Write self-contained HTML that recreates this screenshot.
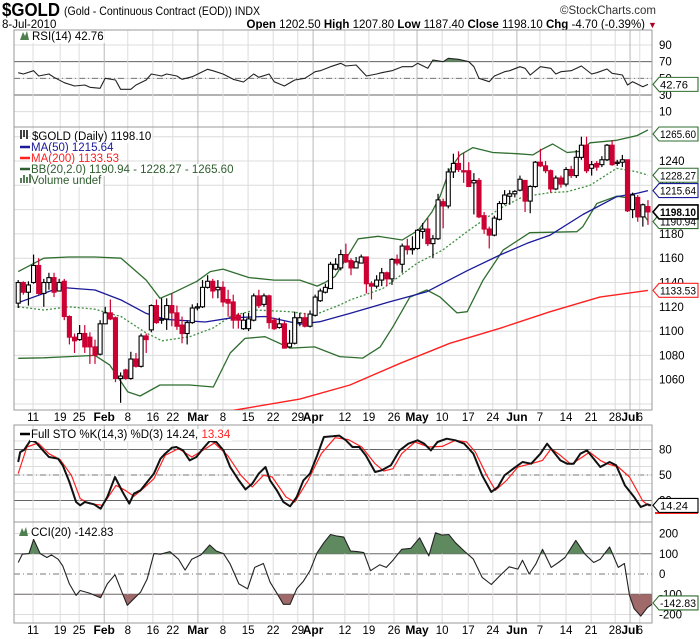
<!DOCTYPE html>
<html><head><meta charset="utf-8">
<style>
html,body{margin:0;padding:0;background:#fff;}
svg{display:block;font-family:"Liberation Sans",sans-serif;}
</style></head>
<body>
<svg id="c" width="700" height="639" viewBox="0 0 700 639">
  <text x="2" y="16" font-size="18" font-weight="bold" textLength="58" lengthAdjust="spacingAndGlyphs">$GOLD</text>
  <text x="64" y="15" font-size="12" textLength="196" lengthAdjust="spacingAndGlyphs">(Gold - Continuous Contract (EOD)) INDX</text>
  <text x="656" y="14" font-size="11.5" text-anchor="end" fill="#333">©StockCharts.com</text>
  <text x="2" y="28" font-size="11.5">8-Jul-2010</text>
  <text x="645" y="28" font-size="11.5" text-anchor="end"><tspan font-weight="bold">Open</tspan> 1202.50 <tspan font-weight="bold">High</tspan> 1207.80 <tspan font-weight="bold">Low</tspan> 1187.40 <tspan font-weight="bold">Close</tspan> 1198.10 <tspan font-weight="bold">Chg</tspan> -4.70 (-0.39%)</text>
  <text x="648" y="28" font-size="9" fill="#b00020">▼</text>
</svg>
<script>
// ---------- price data (daily bars) ----------
const opens=[1123,1140,1132,1140,1154,1131,1140,1144,1133,1141,1112,1095,1093,1098,1095,1087,1081,1106,1115,1111,1061,1068,1061,1077,1071,1096,1101,1121,1109,1110,1121,1115,1105,1098,1107,1119,1120,1136,1141,1134,1136,
1126,1124,1113,1102,1102,1109,1129,1122,1129,1109,1103,1106,1087,1090,1107,1111,1104,1113,1125,1132,1135,1151,1152,1163,1158,1152,1156,1161,1139,1137,1142,1148,1143,1159,1155,1170,1167,1168,1182,1184,1172,1176,
1206.5,1203,1231,1238,1232,1232,1222,1224,1195,1184,1179,1192,1205,1211,1213,1216,1224,1207,1219,1239,1236,1232,1217,1226,1221,1233,1228,1243,1253,1234,1238,1237,1241,1253,1238,1239,1241,1200,1210,1194,1202.5];
const closes=[1140,1132,1138,1154,1131,1140,1144,1132,1140,1112,1095,1092,1098,1087,1087,1080,1106,1115,1110,1061,1063,1061,1077,1071,1096,1093,1121,1107,1110,1121,1115,1104,1098,1107,1119,1120,1136,1141,1133,1136,1124,
1123,1109,1109,1109,1110,1129,1121,1129,1107,1102,1106,1086,1090,1111,1111,1104,1114,1128,1133,1136,1155,1155,1163,1157,1152,1157,1161,1139,1137,1142,1148,1143,1159,1156,1170,1167,1168,1183,1184,1172,1176,1208,
1203,1231,1238,1233,1231,1219,1224,1194,1184,1179,1193,1205,1212,1213,1215,1225,1207,1219,1239,1236,1232,1217,1226,1221,1233,1228,1243,1253,1232,1237,1235,1241,1253,1237,1239,1241,1199,1212,1194,1204,1198.1];
const highs=[1142,1141,1141,1163,1160,1143,1148,1148,1143,1143,1113,1098,1105,1105,1099,1093,1109,1120,1126,1112,1066,1069,1083,1082,1098,1098,1122,1126,1127,1127,1131,1121,1112,1109,1122,1123,1142,1146,1143,1142,1141,
1134,1130,1115,1115,1115,1131,1134,1131,1130,1111,1111,1108,1101,1116,1115,1115,1117,1130,1135,1139,1157,1160,1167,1172,1160,1161,1163,1161,1141,1146,1152,1149,1160,1163,1172,1176,1178,1184,1189,1193,1179,1213,
1209,1234,1246,1248,1247,1239,1230,1226,1198,1186,1195,1207,1216,1216,1216,1228,1224,1220,1240,1250,1240,1233,1228,1228,1235,1236,1249,1260,1260,1240,1240,1244,1254,1257,1241,1245,1241,1214,1212,1205,1207.8];
const lows=[1119,1130,1121,1139,1130,1120,1134,1128,1134,1109,1089,1082,1092,1082,1073,1073,1080,1106,1109,1058,1041,1060,1060,1070,1070,1082,1099,1106,1106,1101,1104,1101,1090,1089,1106,1117,1119,1135,1127,1127,1120,
1112,1102,1102,1101,1100,1108,1119,1120,1102,1101,1102,1086,1086,1089,1104,1103,1103,1112,1124,1131,1135,1150,1150,1156,1146,1152,1156,1131,1126,1135,1137,1137,1138,1154,1148,1163,1163,1167,1176,1170,1160,1175,
1184.6,1201,1226,1231,1222,1219,1196,1193,1180,1168,1178,1191,1204,1204,1210,1215,1198,1197,1218,1235,1230,1214,1216,1218,1219,1226,1226,1241,1230,1228,1232,1235,1240,1236,1236,1235,1198,1193,1190,1186,1187.4];

// ---------- overlays (bar index, value) ----------
const bbUpIdx=[0,5,9.9,15,20.1,25,27.7,30,34.9,37.5,40,45.1,50,55,58.4,59.9,61.9,63.8,66.4,70.3,75,78.1,80.8,82.4,84.3,86.3,88.8,92.7,97.4,100.5,102.5,104.4,107.2,109.7,111.7,116.9,120.9,123];
const bbUp=[1149,1160,1161,1161,1160,1142,1127,1131,1141,1149,1151,1144,1142,1142,1137,1140,1145,1158,1176,1178,1175,1183,1198,1211,1233,1245,1251,1247,1246,1245,1250,1254,1247,1248,1255,1257,1261,1265.6];
const bbLowIdx=[0,5,9.9,15,17.9,21.4,23.8,27.7,33.5,38.1,41.4,44.3,48.2,53.1,57.9,62.8,67.3,70.7,73.2,76.5,79.8,82.4,85.7,87.7,90.8,94.7,99.9,109.1,110.3,113,116.9,119.5,121.4,123];
const bbLow=[1077.6,1078,1079,1080,1072,1050,1046.6,1055.6,1055.6,1054,1082,1094,1095.4,1086,1087,1079,1077.8,1087,1103.6,1128,1133.8,1128,1115,1116,1142,1166.7,1181,1181.8,1186,1205,1211,1209.5,1200,1190.9];
const bbMidIdx=[0,5,9.9,15,20.1,25,28.1,33.5,38.1,41.4,46.25,53.1,57.9,62.8,64.8,71.2,77.9,82.9,87.7,94.1,98.6,103.9,107.2,111.7,116.9,120.9,123];
const bbMid=[1120,1117.4,1120,1118,1111.9,1098.4,1092,1095.4,1102.6,1111.9,1117.4,1116,1113.3,1121.5,1125.6,1135,1155.8,1166.7,1182,1201,1210.6,1214,1214.7,1220,1234,1231,1228.3];
const ma50Idx=[0,5,8.2,15,20.1,25,28.7,36.5,41.9,48.2,55.1,58.9,64.8,72.6,79.8,87.7,94.1,99.4,103.9,110.3,116.9,120.9,123];
const ma50=[1123.4,1131,1136,1133.8,1125.6,1114.6,1109.7,1107.5,1111,1112,1105.8,1107.7,1114.6,1124.2,1132.4,1149.7,1162.6,1172.3,1179,1196,1210.6,1213.4,1215.6];
const ma200Idx=[38,42.3,55,64.8,74.6,84.3,94.1,103.9,113.6,123];
const ma200=[1031,1035,1044,1055.6,1073.5,1090,1102.3,1116,1128,1133.5];

// ---------- RSI ----------
const rsiIdx=[0,1,3,4,6,7,9,11,13,14,16,17,19,20,22,23,25,26,28,29,31,32,34,37,38,40,42,44,46,47,49,50,52,54,56,58,59,61,63,64,66,68,70,71,73,75,77,78,80,81,83,84,86,88,89,90,92,93,95,96,98,99,100,102,104,105,106,108,110,112,113,115,116,118,119,120,122,123];
const rsiVals=[56.8,55.2,59.2,52.8,55.2,51.2,44.8,40.8,42,39.2,38,50,48,36.8,36.8,42,48,55.2,52.8,55.2,52.8,48.8,52,60.8,59.2,55.2,48.8,45.6,55.2,51.2,55.2,46,40.8,48,50,58,59.2,64,68,64.8,66,52.8,55.2,56.8,59.2,64,64,68,62,72,70,74,72.8,70,64,50,46,52.8,58,59.2,64,62,54,64,62,55.2,58,59.2,64.8,55.2,56.8,61.2,56,54,42,46,40,42.76];

// ---------- Full Stochastics ----------
const stoKIdx=[0,0.4,1.2,2.4,3.4,4.7,6,7.8,8.7,10,11.3,12.1,13,14.8,16.1,17.4,18.9,20.4,21.7,22.6,23.9,25.2,26.5,27.8,28.7,30,30.9,32.2,33.5,34.8,36.1,37.4,38.7,40.1,41.4,43.1,44.4,45.7,47,48.3,49.2,50.5,51.8,53.1,54.4,55.7,57,58.4,59.7,61.4,62.7,64,65.3,66.6,67.9,69.7,71,72.8,74.5,76.2,78,79.3,80.6,81.9,83.7,85.4,87.1,88.9,90.6,92.4,93.7,95,96.7,98.5,100.2,102,103.3,104.6,105.9,107.2,108.5,109.8,111.1,112.4,113.7,115.5,116.8,118.5,120.3,121.6,122.9,123.6];
const stoK=[65.3,77,79.8,90.8,88.8,79.8,71.2,69.2,61.4,41.8,18.2,14.3,18.2,15.5,10.4,24.1,47.6,30,16.3,28,32,41.8,51.6,69.2,75.1,82.1,82.9,79,67.2,71.2,81,90,88.8,79,59.4,43.7,33.1,39.8,51.6,59.4,43.7,32,18.2,13.2,24.1,43.7,51.6,73.1,94.7,95.5,96.3,90.8,82.9,82.9,73.1,53.5,55.5,61.4,79,86.8,90.8,86.8,79,88.8,92.7,90.8,86.8,75.1,49.6,30,35.9,49.6,57.4,65.3,63.3,75.1,86.8,77,67.2,63.3,63.3,75.1,79,69.2,59.4,65.3,61.4,37.8,24.1,12.4,15.5,14.24];
const stoDIdx=[0,1.7,3.9,6,8.2,10.4,12.1,13.9,16.5,19.1,20.9,22.6,24.4,26.5,28.7,31.3,33.9,36.6,38.3,40.9,43.5,45.7,47.9,49.6,52.3,54,56.6,59.2,61.9,64.5,67.1,69.7,71.4,73.2,74.9,77.5,80.2,82.8,85.4,87.6,89.3,91.5,93.2,95.4,97.6,100.2,102.4,104.1,105.9,108,110.2,111.6,113.7,115,117.2,119.4,122,123.3];
const stoD=[51.6,82.9,87.6,75.1,68,49.6,22.2,16.3,14.3,37.8,32,24.9,33.9,45.7,73.1,81,71.2,81,87.6,73.1,49.6,35.9,49.6,47.6,24.1,18.2,43.7,75.1,93.9,91.6,82.9,63.3,54.7,57.4,75.1,88.8,82.9,83.7,90.8,88.8,77,49.6,32,43.7,59.4,63.3,67.2,81,73.1,62.5,71.2,77,67.2,63.3,59.4,47.6,19.4,13.34];

// ---------- CCI ----------
const cciIdx=[0,0.8,2.1,3,4.3,5.6,6.5,7.8,8.7,10,11.3,12.1,13.9,16.1,17.4,18.9,20.4,21.3,22.6,23.9,25.2,26.5,27.8,29.6,31.3,32.6,33.9,35.7,37.4,38.7,40.1,41.4,43.1,44.8,46.2,47.9,49.2,50.5,51.8,53.1,54.4,55.7,57,58.4,59.7,61,62.3,63.6,64.9,66.2,67.5,68.8,70.6,71.9,73.2,74.9,76.7,78.4,80.2,81.5,82.8,84.1,85.4,87.1,88.9,90.6,92.4,94.1,95.9,97.6,98.5,99.8,101.1,102.4,104.1,105.5,106.8,108.9,110.7,112.4,113.7,115.5,117.2,118.4,119.4,120.3,121.6,122.9,124.2];
const cciVals=[56.9,97.6,100.8,170.7,100.8,81.3,94.3,73.2,40.7,-48.8,-105.7,-81.3,-94.3,-117.1,-48.8,-3.3,-97.6,-154.5,-121.9,-89.4,-24.4,100.8,97.6,110.6,73.2,19.5,73.2,94.3,143.1,113.8,100.8,48.8,-48.8,-73.2,32.5,52,-40.7,-94.3,-149.6,-149.6,-73.2,-35.8,16.3,105.7,154.5,195.1,187,182.1,113.8,110.6,105.7,16.3,45.5,32.5,68.3,122,126.8,178.9,89.4,203.3,191.9,195.1,154.5,113.8,73.2,-16.3,-52,-8.1,35.8,24.4,68.3,0,48.8,122,32.5,56.9,81.3,165.9,97.6,56.9,73.2,133.3,32.5,52,-105.7,-170.7,-208.1,-165.9,-142.83];

// ---------- axis labels ----------
const dateLabels=["11","19","25","Feb","8","16","22","Mar","8","15","22","29","Apr","12","19","26","May","10","17","24","Jun","7","14","21","28","Jul","6"];
const dateLabelIdx=[2.9,8.2,11.9,16.8,21.4,26.3,30.2,35.1,40,44.9,49.8,54.6,57.6,63.8,68.5,73.4,77.9,82.8,87.9,92.7,97.4,101.9,107,111.9,116.6,119.5,121.4];
const priceTicks=[1060,1080,1100,1120,1140,1160,1180,1200,1220,1240,1260];
const rsiTicks=[90,70,50,30,10];
const stoTicks=[80,50,20];
const cciTicks=[200,100,0,-100,-200];

const NS='http://www.w3.org/2000/svg';
const svg=document.getElementById('c');
function mk(tag,attrs,parent){const e=document.createElementNS(NS,tag);for(const k in attrs)e.setAttribute(k,attrs[k]);(parent||svg).appendChild(e);return e;}
const PL=14, PR=652;
function xk(k){return 18.2+5.12*k;}
function yP(v){return 161+(1240-v)*1.215;}
function yR(v){return 95-(v-30)*0.833;}
function yS(v){return 475-(v-50)*0.85;}
function yC(v){return 574-v*0.2025;}
const panels={rsi:[30,127],main:[127,410],sto:[425,522],cci:[522,623]};

const defs=mk('defs',{});
for(const p in panels){const cp=mk('clipPath',{id:'clip-'+p},defs);mk('rect',{x:PL,y:panels[p][0],width:PR-PL,height:panels[p][1]-panels[p][0]},cp);}

function hgrid(p,yv,style){const l=mk('line',{x1:PL,x2:PR,y1:yv,y2:yv,stroke:style.c,'stroke-width':style.w||1,'stroke-dasharray':style.d||'none'});}
for(let v=1040;v<=1260;v+=20)hgrid('price',yP(v),{c:'#dcdcdc'});
for(let v=10;v<=90;v+=20)hgrid('rsi',yR(v),{c:'#dcdcdc'});
hgrid('rsi',yR(70),{c:'#666'});hgrid('rsi',yR(30),{c:'#666'});hgrid('rsi',yR(50),{c:'#777',d:'6,3,1,3'});
for(let v=10;v<=90;v+=10)hgrid('sto',yS(v),{c:'#dcdcdc'});
hgrid('sto',yS(80),{c:'#666'});hgrid('sto',yS(20),{c:'#666'});hgrid('sto',yS(50),{c:'#777',d:'6,3,1,3'});
hgrid('cci',yC(100),{c:'#666'});hgrid('cci',yC(-100),{c:'#666'});hgrid('cci',yC(0),{c:'#777',d:'6,3,1,3'});
hgrid('cci',yC(200),{c:'#dcdcdc'});hgrid('cci',yC(-200),{c:'#dcdcdc'});

dateLabels.forEach((lab,i)=>{const month=isNaN(+lab);const x=xk(dateLabelIdx[i]);
  for(const p in panels){const l=mk('line',{x1:x,x2:x,y1:panels[p][0],y2:panels[p][1],stroke:month?'#b8b8b8':'#dcdcdc'});
    }
  [421,634].forEach(yy=>{const t=mk('text',{x:x,y:yy,'font-size':month?12:11.5,'font-weight':month?'bold':'normal','text-anchor':'middle'});t.textContent=lab;
    });
});

for(const p in panels){const r=mk('rect',{x:PL,y:panels[p][0],width:PR-PL,height:panels[p][1]-panels[p][0],fill:'none',stroke:'#999'});
  }

function pathD(idx,vals,yf){let d='';const n=Math.min(idx.length,vals.length);for(let i=0;i<n;i++)d+=(i?'L':'M')+xk(idx[i]).toFixed(1)+','+yf(vals[i]).toFixed(1);return d;}
function line(idx,vals,yf,clip,stroke,w,dash,name){const p=mk('path',{d:pathD(idx,vals,yf),fill:'none',stroke:stroke,'stroke-width':w,'stroke-dasharray':dash||'none','clip-path':'url(#clip-'+clip+')','stroke-linejoin':'round'});
  return p;}
function fillBand(idx,vals,yf,clip,thr,above,color,name){
  const n=Math.min(idx.length,vals.length);const cid='fc-'+name;const cp=mk('clipPath',{id:cid},defs);
  const top=panels[clip][0],bot=panels[clip][1];
  if(above)mk('rect',{x:PL,y:top,width:PR-PL,height:yf(thr)-top},cp);else mk('rect',{x:PL,y:yf(thr),width:PR-PL,height:bot-yf(thr)},cp);
  let d='M'+xk(idx[0])+','+yf(thr);for(let i=0;i<n;i++)d+='L'+xk(idx[i]).toFixed(1)+','+yf(vals[i]).toFixed(1);d+='L'+xk(idx[n-1])+','+yf(thr)+'Z';
  const g=mk('g',{'clip-path':'url(#'+cid+')'});const p=mk('path',{d:d,fill:color},g);
  }

fillBand(rsiIdx,rsiVals,yR,'rsi',70,true,'#5f8a5f','rsi-overbought-fill');
fillBand(rsiIdx,rsiVals,yR,'rsi',30,false,'#a06a6a','rsi-oversold-fill');
line(rsiIdx,rsiVals,yR,'rsi','#222',1.1,null,'rsi-line');

line(bbUpIdx,bbUp,yP,'main','#2f6e2f',1.3,null,'bb-upper-band');
line(bbLowIdx,bbLow,yP,'main','#2f6e2f',1.3,null,'bb-lower-band');
line(bbMidIdx,bbMid,yP,'main','#3f8f3f',1.3,'2,2','bb-middle-band');
line(ma50Idx,ma50,yP,'main','#1a1a9a',1.3,null,'ma50-line');
line(ma200Idx,ma200,yP,'main','#ff2020',1.4,null,'ma200-line');

const cg=mk('g',{'clip-path':'url(#clip-main)'});
for(let i=0;i<closes.length;i++){
  const x=xk(i),up=closes[i]>=opens[i],col=up?'#000':'#cc0033';
  const w=mk('line',{x1:x,x2:x,y1:yP(highs[i]),y2:yP(lows[i]),stroke:col,'stroke-width':1.2},cg);
  
  
  const t=yP(Math.max(opens[i],closes[i])),b=yP(Math.min(opens[i],closes[i]));
  const r=mk('rect',{x:x-2,y:t,width:4,height:Math.max(1,b-t),fill:up?'#fff':'#cc0033',stroke:col,'stroke-width':1.1},cg);
  
  
}

line(stoDIdx,stoD,yS,'sto','#ff2020',1.2,null,'sto-d-line');
line(stoKIdx,stoK,yS,'sto','#111',2,null,'sto-k-line');

fillBand(cciIdx,cciVals,yC,'cci',100,true,'#5f8a5f','cci-above-100-fill');
fillBand(cciIdx,cciVals,yC,'cci',-100,false,'#a06a6a','cci-below-minus100-fill');
line(cciIdx,cciVals,yC,'cci','#222',1.1,null,'cci-line');

function tick(y,s,name){const t=mk('text',{x:659,y:y+4,'font-size':11.5});t.textContent=s;}
priceTicks.forEach(v=>tick(yP(v),String(v),'price-tick-label'));
rsiTicks.forEach(v=>tick(yR(v),String(v),'rsi-tick-label'));
stoTicks.forEach(v=>tick(yS(v),String(v),'sto-tick-label'));
cciTicks.forEach(v=>tick(yC(v),String(v),'cci-tick-label'));

function tagBox(y,s,color,bold,name){const g=mk('g',{});
  
  
  mk('path',{d:`M653,${y} L659,${y-7} L698,${y-7} L698,${y+7} L659,${y+7} Z`,fill:'#fff',stroke:color,'stroke-width':bold?1.6:1.1},g);
  const t=mk('text',{x:660,y:y+4,'font-size':11,'font-weight':bold?'bold':'normal',fill:'#000',textLength:Math.min(36,s.length*5.6),lengthAdjust:'spacingAndGlyphs'},g);t.textContent=s;}
tagBox(yR(42.76),'42.76','#2f6e2f',false,'rsi-value-tag');
tagBox(Math.max(134,yP(1265.6)),'1265.60','#2f6e2f',false,'bb-upper-tag');
tagBox(yP(1228.27),'1228.27','#2f6e2f',false,'bb-middle-tag');
tagBox(yP(1215.64),'1215.64','#1a1a9a',false,'ma50-tag');
tagBox(yP(1190.94)+1,'1190.94','#2f6e2f',false,'bb-lower-tag');
tagBox(yP(1198.1),'1198.10','#000',true,'close-tag');
tagBox(yP(1133.53),'1133.53','#ff2020',false,'ma200-tag');
const rl=mk('line',{x1:655,x2:698,y1:513,y2:513,stroke:'#ff2020','stroke-width':2});


tagBox(yS(14.24),'14.24','#000',false,'sto-k-tag');
tagBox(yC(-142.83),'-142.83','#2f6e2f',false,'cci-value-tag');

function legend(x,y,parts,name){const t=mk('text',{x:x,y:y,'font-size':11.5});
  
  
  parts.forEach(p=>{const s=mk('tspan',{fill:p[1]||'#000'},t);s.textContent=p[0];});
  const bb=t.getBBox();const r=mk('rect',{x:bb.x-1,y:bb.y,width:bb.width+2,height:bb.height,fill:'#fff'});svg.insertBefore(r,t);}
function mountain(x,y,c){const p=mk('path',{d:`M${x},${y} L${x+3},${y-8} L${x+5},${y-4} L${x+7},${y-9} L${x+9},${y} Z`,fill:c});
  }
legend(32,40,[['RSI(14) 42.76']],'rsi-legend');mountain(20,40,'#4f7f4f');
legend(32,140,[['$GOLD (Daily) 1198.10']],'price-legend');
const ci=mk('path',{d:'M21,139 v-9 M24,137 v-7 M27,139 v-9',stroke:'#000','stroke-width':1.5});

function dash(y,c,name){const l=mk('line',{x1:20,x2:30,y1:y,y2:y,stroke:c,'stroke-width':2.5});}
legend(31,151,[['MA(50) 1215.64','#1a1a9a']],'ma50-legend');dash(147,'#1a1a9a','ma50-legend-swatch');
legend(31,162,[['MA(200) 1133.53','#ff2020']],'ma200-legend');dash(158,'#ff2020','ma200-legend-swatch');
legend(31,173,[['BB(20,2.0) 1190.94 - 1228.27 - 1265.60','#2f5e2f']],'bb-legend');dash(169,'#2f5e2f','bb-legend-swatch');
legend(31,184,[['Volume undef','#2f5e2f']],'volume-legend');
const vi=mk('path',{d:'M21,183 v-5 M24,183 v-8 M27,183 v-6 M30,183 v-9',stroke:'#2f5e2f','stroke-width':1.6});

legend(31,438,[['Full STO %K(14,3) %D(3) 14.24, '],['13.34','#ff2020']],'sto-legend');dash(434,'#000','sto-legend-swatch');
legend(31,536,[['CCI(20) -142.83']],'cci-legend');mountain(19,536,'#4f7f4f');
</script>
</body></html>
